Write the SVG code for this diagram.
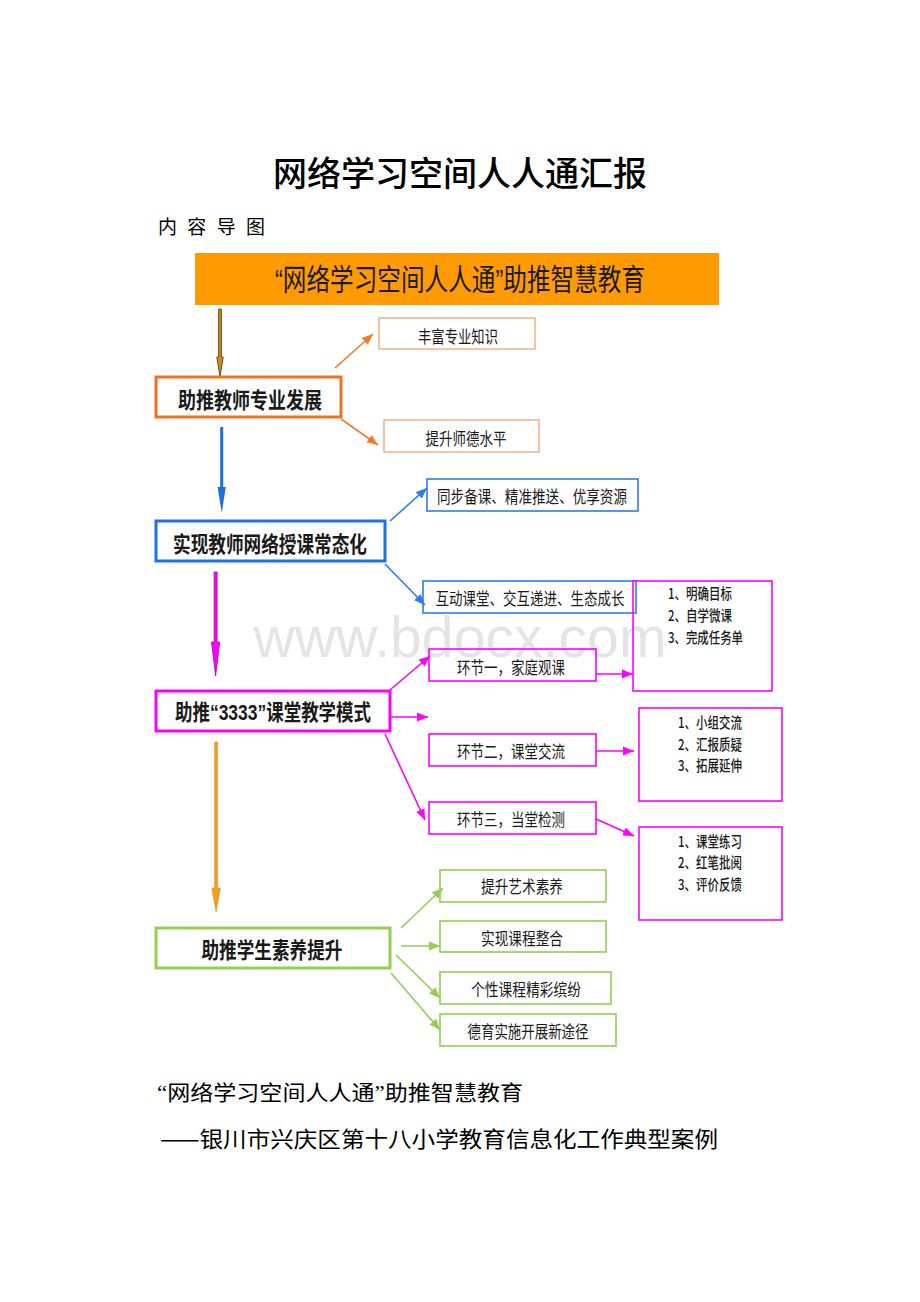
<svg xmlns="http://www.w3.org/2000/svg" width="920" height="1302" viewBox="0 0 920 1302">
<style>
text{font-family:"Noto Sans CJK SC","Liberation Sans",sans-serif;fill:#1a1a1a;dominant-baseline:central;text-anchor:middle}
.main{font-size:22px;font-weight:700}
.sub{font-size:17px}
.lst{font-size:15px;text-anchor:start;font-weight:500}
.q{font-family:"Liberation Sans","Noto Sans CJK SC",sans-serif}
.qs{font-family:"Liberation Serif","Noto Sans CJK SC",serif}
.sm{fill:none;stroke-width:1.6}
.mb{fill:none;stroke-width:3}
.c{fill:none;stroke-width:1.6}
</style>
<defs>
<marker id="ao" markerUnits="userSpaceOnUse" markerWidth="12" markerHeight="10" refX="11" refY="5" orient="auto"><path d="M0,0.5 L11,5 L0,9.5 Z" fill="#F07A28"/></marker>
<marker id="ab" markerUnits="userSpaceOnUse" markerWidth="12" markerHeight="10" refX="11" refY="5" orient="auto"><path d="M0,0.5 L11,5 L0,9.5 Z" fill="#2E7BF0"/></marker>
<marker id="am" markerUnits="userSpaceOnUse" markerWidth="12" markerHeight="10" refX="11" refY="5" orient="auto"><path d="M0,0.5 L11,5 L0,9.5 Z" fill="#FF00FF"/></marker>
<marker id="ag" markerUnits="userSpaceOnUse" markerWidth="12" markerHeight="10" refX="11" refY="5" orient="auto"><path d="M0,0.5 L11,5 L0,9.5 Z" fill="#92D050"/></marker>
</defs>
<rect width="920" height="1302" fill="#ffffff"/>

<text x="460" y="636" style="font-family:'Liberation Sans',sans-serif;font-size:58px;fill:#e4e4e4" textLength="413" lengthAdjust="spacingAndGlyphs">www.bdocx.com</text>

<g id="title">
<text x="460" y="171" style="font-size:34px;font-weight:500;fill:#000" textLength="374" lengthAdjust="spacingAndGlyphs">网络学习空间人人通汇报</text>
<text x="158" y="225" style="font-size:19px;text-anchor:start;fill:#000" textLength="107" lengthAdjust="spacing">内 容 导 图</text>
</g>

<g id="banner">
<rect x="195" y="253" width="524" height="52" fill="#FF9A00"/>
<text class="q" x="460" y="279" style="font-size:30px" textLength="370" lengthAdjust="spacingAndGlyphs">“网络学习空间人人通”助推智慧教育</text>
</g>

<g id="connectors">
<path d="M218.6,309 h2.8 v48 h1.8 l-3.2,20 l-3.2,-20 h1.8 z" fill="#C8901A" stroke="#6a5020" stroke-width="1"/>
<path d="M220.2,427 h3 v60 h2.6 l-4.1,26 l-4.1,-26 h2.6 z" fill="#1E6FE0"/>
<path d="M214.1,572 h3 v70 h2.6 l-4.1,34 l-4.1,-34 h2.6 z" fill="#FF00FF" stroke="#B000B0" stroke-width="0.8"/>
<path d="M214.6,742 h3 v146 h2.8 l-4.3,24 l-4.3,-24 h2.8 z" fill="#F0A020" stroke="#D89018" stroke-width="0.6"/>

<line class="c" stroke="#F07A28" x1="335" y1="368" x2="373" y2="334" marker-end="url(#ao)"/>
<line class="c" stroke="#F07A28" x1="341" y1="419" x2="378" y2="445" marker-end="url(#ao)"/>

<line class="c" stroke="#2E7BF0" x1="390" y1="521" x2="427" y2="488" marker-end="url(#ab)"/>
<line class="c" stroke="#2E7BF0" x1="385" y1="564" x2="425" y2="605" marker-end="url(#ab)"/>

<line class="c" stroke="#FF00FF" x1="390" y1="690" x2="430" y2="656" marker-end="url(#am)"/>
<line class="c" stroke="#FF00FF" stroke-width="2" x1="390" y1="717" x2="428" y2="717" marker-end="url(#am)"/>
<line class="c" stroke="#FF00FF" x1="385" y1="734" x2="425" y2="820" marker-end="url(#am)"/>
<line class="c" stroke="#FF00FF" stroke-width="2" x1="596" y1="674" x2="633" y2="674" marker-end="url(#am)"/>
<line class="c" stroke="#FF00FF" stroke-width="2" x1="596" y1="751" x2="634" y2="751" marker-end="url(#am)"/>
<line class="c" stroke="#FF00FF" stroke-width="2" x1="596" y1="819" x2="634" y2="836" marker-end="url(#am)"/>

<line class="c" stroke="#92D050" x1="401" y1="928" x2="443" y2="888" marker-end="url(#ag)"/>
<line class="c" stroke="#92D050" x1="401" y1="946" x2="440" y2="946" marker-end="url(#ag)"/>
<line class="c" stroke="#92D050" x1="396" y1="955" x2="440" y2="998" marker-end="url(#ag)"/>
<line class="c" stroke="#92D050" x1="391" y1="973" x2="440" y2="1030" marker-end="url(#ag)"/>
</g>

<g id="n1">
<rect class="mb" x="156" y="377" width="185" height="40" stroke="#F07020"/>
<text class="main" x="250" y="398" textLength="144" lengthAdjust="spacingAndGlyphs">助推教师专业发展</text>
</g>
<g id="n1a">
<rect class="sm" x="379" y="318" width="156" height="31" stroke="#F6B48A"/>
<text class="sub" x="458" y="335" textLength="80" lengthAdjust="spacingAndGlyphs">丰富专业知识</text>
</g>
<g id="n1b">
<rect class="sm" x="384" y="420" width="155" height="32" stroke="#F6B48A"/>
<text class="sub" x="466" y="437" textLength="81" lengthAdjust="spacingAndGlyphs">提升师德水平</text>
</g>

<g id="n2">
<rect class="mb" x="156" y="521" width="229" height="40" stroke="#1F6FEF"/>
<text class="main" x="270" y="542" textLength="194" lengthAdjust="spacingAndGlyphs">实现教师网络授课常态化</text>
</g>
<g id="n2a">
<rect class="sm" x="427" y="479" width="211" height="32" stroke="#2E7BF0" stroke-width="2"/>
<text class="sub" x="532" y="495" textLength="190" lengthAdjust="spacingAndGlyphs">同步备课、精准推送、优享资源</text>
</g>
<g id="n2b">
<rect class="sm" x="423" y="581" width="213" height="32" stroke="#2E7BF0" stroke-width="2"/>
<text class="sub" x="530" y="597" textLength="189" lengthAdjust="spacingAndGlyphs">互动课堂、交互递进、生态成长</text>
</g>

<g id="n3">
<rect class="mb" x="156" y="691" width="234" height="40" stroke="#FF00FF"/>
<text class="main q" x="273" y="712" textLength="196" lengthAdjust="spacingAndGlyphs">助推“3333”课堂教学模式</text>
</g>
<g id="n3a">
<rect class="sm" x="429" y="649" width="167" height="32" stroke="#FF00FF" stroke-width="2"/>
<text class="sub" x="511" y="666" textLength="108" lengthAdjust="spacingAndGlyphs">环节一，家庭观课</text>
</g>
<g id="n3b">
<rect class="sm" x="429" y="734" width="167" height="32" stroke="#FF00FF" stroke-width="2"/>
<text class="sub" x="511" y="750" textLength="108" lengthAdjust="spacingAndGlyphs">环节二，课堂交流</text>
</g>
<g id="n3c">
<rect class="sm" x="429" y="802" width="167" height="32" stroke="#FF00FF" stroke-width="2"/>
<text class="sub" x="511" y="818" textLength="108" lengthAdjust="spacingAndGlyphs">环节三，当堂检测</text>
</g>
<g id="l1">
<rect class="sm" x="633" y="581" width="139" height="110" stroke="#FF00FF" stroke-width="2"/>
<text class="lst" x="668" y="592" textLength="64" lengthAdjust="spacingAndGlyphs">1、明确目标</text>
<text class="lst" x="668" y="614" textLength="64" lengthAdjust="spacingAndGlyphs">2、自学微课</text>
<text class="lst" x="668" y="636" textLength="75" lengthAdjust="spacingAndGlyphs">3、完成任务单</text>
</g>
<g id="l2">
<rect class="sm" x="639" y="708" width="143" height="93" stroke="#FF00FF" stroke-width="2"/>
<text class="lst" x="678" y="721" textLength="64" lengthAdjust="spacingAndGlyphs">1、小组交流</text>
<text class="lst" x="678" y="743" textLength="64" lengthAdjust="spacingAndGlyphs">2、汇报质疑</text>
<text class="lst" x="678" y="764" textLength="64" lengthAdjust="spacingAndGlyphs">3、拓展延伸</text>
</g>
<g id="l3">
<rect class="sm" x="639" y="827" width="143" height="93" stroke="#FF00FF" stroke-width="2"/>
<text class="lst" x="678" y="840" textLength="64" lengthAdjust="spacingAndGlyphs">1、课堂练习</text>
<text class="lst" x="678" y="861" textLength="64" lengthAdjust="spacingAndGlyphs">2、红笔批阅</text>
<text class="lst" x="678" y="883" textLength="64" lengthAdjust="spacingAndGlyphs">3、评价反馈</text>
</g>

<g id="n4">
<rect class="mb" x="156" y="928" width="234" height="40" stroke="#92D050"/>
<text class="main" x="272" y="948" textLength="141" lengthAdjust="spacingAndGlyphs">助推学生素养提升</text>
</g>
<g id="n4a">
<rect class="sm" x="440" y="870" width="166" height="32" stroke="#92D050" stroke-width="2"/>
<text class="sub" x="522" y="885" textLength="82" lengthAdjust="spacingAndGlyphs">提升艺术素养</text>
</g>
<g id="n4b">
<rect class="sm" x="440" y="921" width="166" height="31" stroke="#92D050" stroke-width="2"/>
<text class="sub" x="522" y="937" textLength="82" lengthAdjust="spacingAndGlyphs">实现课程整合</text>
</g>
<g id="n4c">
<rect class="sm" x="440" y="972" width="171" height="32" stroke="#92D050" stroke-width="2"/>
<text class="sub" x="526" y="988" textLength="110" lengthAdjust="spacingAndGlyphs">个性课程精彩缤纷</text>
</g>
<g id="n4d">
<rect class="sm" x="440" y="1014" width="176" height="32" stroke="#92D050" stroke-width="2"/>
<text class="sub" x="528" y="1030" textLength="121" lengthAdjust="spacingAndGlyphs">德育实施开展新途径</text>
</g>

<g id="footer">
<text class="qs" x="157" y="1093" style="font-size:21px;text-anchor:start;fill:#000" textLength="366" lengthAdjust="spacingAndGlyphs">“网络学习空间人人通”助推智慧教育</text>
<text x="160" y="1137" style="font-size:22px;text-anchor:start;fill:#000" textLength="558" lengthAdjust="spacingAndGlyphs">——银川市兴庆区第十八小学教育信息化工作典型案例</text>
</g>
</svg>
